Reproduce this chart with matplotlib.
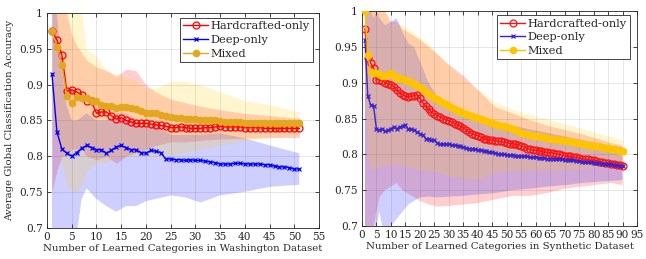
import numpy as np
import matplotlib
matplotlib.use("Agg")
import matplotlib.pyplot as plt

# ---- Washington dataset (left) ----
wash_x = list(range(1, 52))
wash_hand = [0.975, 0.963, 0.942, 0.891, 0.893, 0.890, 0.886, 0.877, 0.877, 0.860,
             0.862, 0.862, 0.857, 0.852, 0.854, 0.850, 0.848, 0.846, 0.846, 0.846,
             0.845, 0.844, 0.843, 0.842, 0.840, 0.840, 0.841, 0.840, 0.839, 0.839,
             0.839, 0.840, 0.840, 0.841, 0.842, 0.841, 0.841, 0.841, 0.841, 0.840,
             0.840, 0.840, 0.840, 0.839, 0.839, 0.839, 0.839, 0.839, 0.839, 0.839, 0.839]
wash_deep = [0.915, 0.834, 0.810, 0.804, 0.800, 0.805, 0.811, 0.815, 0.812, 0.809,
             0.809, 0.804, 0.808, 0.813, 0.815, 0.812, 0.809, 0.809, 0.805, 0.804,
             0.808, 0.807, 0.805, 0.796, 0.796, 0.795, 0.795, 0.794, 0.795, 0.794,
             0.794, 0.793, 0.792, 0.791, 0.789, 0.789, 0.789, 0.790, 0.790, 0.789,
             0.789, 0.789, 0.789, 0.788, 0.788, 0.786, 0.785, 0.785, 0.784, 0.782, 0.782]
wash_mixed = [0.975, 0.953, 0.928, 0.885, 0.874, 0.883, 0.881, 0.882, 0.878, 0.878,
              0.872, 0.871, 0.870, 0.867, 0.869, 0.869, 0.868, 0.866, 0.863, 0.860,
              0.860, 0.860, 0.858, 0.857, 0.855, 0.854, 0.853, 0.852, 0.852, 0.852,
              0.851, 0.851, 0.850, 0.850, 0.849, 0.848, 0.848, 0.848, 0.848, 0.847,
              0.847, 0.847, 0.847, 0.846, 0.846, 0.846, 0.846, 0.846, 0.846, 0.846, 0.846]

# shaded spread, read at a coarser set of positions
wash_bx = [1, 2, 3, 4, 5, 6, 7, 8, 10, 12, 14, 16, 18, 20, 22, 25, 28, 31, 35, 40, 45, 51]
wash_hand_hi = [1.08, 1.06, 1.04, 1.0, 0.97, 0.955, 0.945, 0.935, 0.925, 0.92, 0.912,
                0.922, 0.92, 0.90, 0.89, 0.88, 0.875, 0.87, 0.865, 0.86, 0.857, 0.853]
wash_hand_lo = [0.75, 0.78, 0.80, 0.80, 0.81, 0.81, 0.81, 0.80, 0.795, 0.80, 0.79,
                0.80, 0.805, 0.81, 0.815, 0.82, 0.82, 0.822, 0.824, 0.825, 0.826, 0.826]
wash_deep_hi = [1.2, 1.0, 0.92, 0.87, 0.85, 0.85, 0.855, 0.86, 0.85, 0.85, 0.86,
                0.86, 0.85, 0.84, 0.845, 0.83, 0.83, 0.83, 0.832, 0.825, 0.815, 0.804]
wash_deep_lo = [0.55, 0.6, 0.65, 0.66, 0.66, 0.69, 0.74, 0.755, 0.74, 0.73, 0.722,
                0.73, 0.73, 0.737, 0.74, 0.745, 0.742, 0.735, 0.745, 0.75, 0.757, 0.76]
wash_mixed_hi = [1.1, 1.1, 1.1, 1.08, 1.05, 1.02, 1.0, 0.95, 0.94, 0.92, 0.915,
                 0.91, 0.906, 0.895, 0.895, 0.905, 0.905, 0.90, 0.89, 0.878, 0.872, 0.862]
wash_mixed_lo = [0.85, 0.82, 0.79, 0.76, 0.75, 0.75, 0.76, 0.78, 0.79, 0.79, 0.80,
                 0.80, 0.80, 0.80, 0.80, 0.80, 0.805, 0.81, 0.815, 0.822, 0.826, 0.83]

# ---- Synthetic dataset (right) ----
syn_x = list(range(1, 91))
syn_hand = [0.975, 0.935, 0.927, 0.920, 0.904, 0.904, 0.903, 0.900, 0.898, 0.897,
            0.894, 0.890, 0.886, 0.883, 0.881, 0.880, 0.881, 0.882, 0.883, 0.878,
            0.872, 0.867, 0.863, 0.859, 0.856, 0.854, 0.852, 0.850, 0.848, 0.847,
            0.845, 0.843, 0.841, 0.839, 0.837, 0.834, 0.831, 0.829, 0.827, 0.826,
            0.824, 0.822, 0.821, 0.820, 0.820, 0.819, 0.818, 0.818, 0.817, 0.816,
            0.815, 0.815, 0.814, 0.813, 0.812, 0.810, 0.808, 0.807, 0.806, 0.806,
            0.805, 0.804, 0.803, 0.803, 0.802, 0.802, 0.801, 0.800, 0.799, 0.798,
            0.797, 0.797, 0.796, 0.796, 0.795, 0.794, 0.793, 0.793, 0.792, 0.792,
            0.791, 0.790, 0.789, 0.788, 0.788, 0.787, 0.786, 0.785, 0.785, 0.784]
syn_deep = [0.960, 0.881, 0.869, 0.867, 0.835, 0.834, 0.836, 0.832, 0.834, 0.836,
            0.838, 0.836, 0.838, 0.840, 0.841, 0.835, 0.835, 0.834, 0.831, 0.829,
            0.827, 0.822, 0.821, 0.820, 0.820, 0.816, 0.814, 0.814, 0.814, 0.814,
            0.813, 0.813, 0.812, 0.811, 0.810, 0.809, 0.808, 0.808, 0.807, 0.806,
            0.806, 0.805, 0.804, 0.803, 0.803, 0.802, 0.801, 0.800, 0.800, 0.799,
            0.799, 0.799, 0.798, 0.798, 0.797, 0.797, 0.797, 0.796, 0.796, 0.796,
            0.795, 0.795, 0.795, 0.794, 0.794, 0.794, 0.793, 0.793, 0.793, 0.792,
            0.792, 0.792, 0.792, 0.791, 0.791, 0.790, 0.790, 0.789, 0.789, 0.788,
            0.788, 0.788, 0.787, 0.787, 0.786, 0.786, 0.785, 0.785, 0.784, 0.784]
syn_mixed = [1.000, 0.939, 0.915, 0.913, 0.913, 0.912, 0.910, 0.909, 0.912, 0.913,
             0.910, 0.906, 0.906, 0.905, 0.904, 0.903, 0.901, 0.898, 0.896, 0.894,
             0.891, 0.887, 0.884, 0.881, 0.879, 0.877, 0.874, 0.872, 0.870, 0.867,
             0.865, 0.863, 0.861, 0.860, 0.858, 0.856, 0.855, 0.853, 0.852, 0.851,
             0.849, 0.848, 0.846, 0.845, 0.844, 0.842, 0.841, 0.840, 0.839, 0.838,
             0.837, 0.836, 0.834, 0.832, 0.830, 0.829, 0.828, 0.827, 0.826, 0.826,
             0.825, 0.824, 0.824, 0.823, 0.822, 0.821, 0.821, 0.820, 0.820, 0.819,
             0.818, 0.818, 0.817, 0.816, 0.816, 0.815, 0.814, 0.813, 0.813, 0.812,
             0.812, 0.811, 0.810, 0.809, 0.809, 0.808, 0.807, 0.806, 0.805, 0.804]

syn_bx = [1, 2, 3, 4, 5, 6, 8, 10, 12, 14, 16, 18, 20, 23, 26, 30, 35, 40, 46, 52,
          58, 64, 70, 76, 82, 86, 90]
syn_hand_hi = [1.1, 1.1, 1.08, 1.06, 1.05, 1.03, 1.0, 0.985, 0.985, 0.975, 0.97, 0.965,
               0.96, 0.95, 0.94, 0.925, 0.91, 0.89, 0.866, 0.857, 0.848, 0.84, 0.834,
               0.828, 0.821, 0.816, 0.812]
syn_hand_lo = [0.60, 0.65, 0.68, 0.70, 0.72, 0.74, 0.75, 0.755, 0.76, 0.75, 0.745, 0.74,
               0.735, 0.73, 0.727, 0.728, 0.73, 0.732, 0.737, 0.742, 0.742, 0.746, 0.752,
               0.755, 0.758, 0.76, 0.757]
syn_deep_hi = [1.1, 1.05, 1.0, 0.99, 1.0, 0.99, 0.98, 0.985, 0.99, 0.97, 0.955, 0.95,
               0.93, 0.90, 0.88, 0.87, 0.86, 0.85, 0.845, 0.84, 0.835, 0.83, 0.825,
               0.82, 0.815, 0.812, 0.81]
syn_deep_lo = [0.65, 0.68, 0.60, 0.65, 0.70, 0.72, 0.68, 0.70, 0.71, 0.72, 0.73, 0.735,
               0.74, 0.741, 0.74, 0.741, 0.742, 0.744, 0.746, 0.75, 0.752, 0.755, 0.757,
               0.76, 0.762, 0.763, 0.764]
syn_mixed_hi = [1.1, 1.1, 1.1, 1.1, 1.08, 1.05, 1.0, 0.98, 0.985, 0.98, 0.975, 0.97,
                0.962, 0.955, 0.94, 0.925, 0.905, 0.89, 0.873, 0.863, 0.856, 0.849,
                0.843, 0.836, 0.829, 0.825, 0.820]
syn_mixed_lo = [0.90, 0.80, 0.78, 0.78, 0.78, 0.785, 0.785, 0.787, 0.787, 0.785, 0.782,
                0.78, 0.778, 0.778, 0.775, 0.77, 0.767, 0.765, 0.775, 0.778, 0.778,
                0.778, 0.779, 0.78, 0.782, 0.783, 0.786]

labels = ["Hardcrafted-only", "Deep-only", "Mixed"]
TXT = "#262626"

plt.rcParams["font.family"] = "DejaVu Serif"
plt.rcParams["font.size"] = 7.5


def draw_panel(ax, x, means, bx, bands, colors, xmax, xlabel):
    fill_cols = ["#ff0000", "#0000ff", "#ffcc00"]
    for (hi, lo), fc in zip(bands, fill_cols):
        ax.fill_between(bx, lo, hi, color=fc, alpha=0.19, linewidth=0, zorder=1)

    hand, deep, mixed = means
    ax.plot(x, hand, "-o", color=colors[0], mfc="none", ms=5, mew=0.9, lw=1.0,
            label=labels[0], zorder=3)
    ax.plot(x, deep, "-x", color=colors[1], ms=3.5, mew=0.9, lw=1.0,
            label=labels[1], zorder=4)
    ax.plot(x, mixed, "-o", color=colors[2], mfc=colors[2], mec=colors[2], ms=4.5,
            lw=1.0, label=labels[2], zorder=5)

    ax.set_xlim(0, xmax)
    ax.set_ylim(0.7, 1.0)
    ax.set_xticks(np.arange(0, xmax + 1, 5))
    ax.set_yticks([0.7, 0.75, 0.8, 0.85, 0.9, 0.95, 1.0])
    ax.set_yticklabels(["0.7", "0.75", "0.8", "0.85", "0.9", "0.95", "1"])
    ax.grid(True, color="#262626", alpha=0.12, linewidth=0.6)
    ax.tick_params(direction="in", top=True, right=True, length=3, width=0.6,
                   colors=TXT, labelsize=7.6, pad=3)
    for s in ax.spines.values():
        s.set_color("#262626")
        s.set_linewidth(0.6)
    ax.set_xlabel(xlabel, color=TXT, fontsize=7.3, labelpad=1.5)


fig = plt.figure(figsize=(6.46, 2.59), dpi=100)
ax1 = fig.add_axes([0.0728, 0.1216, 0.4211, 0.8263])
ax2 = fig.add_axes([0.5604, 0.1274, 0.4257, 0.8301])

draw_panel(ax1, wash_x, (wash_hand, wash_deep, wash_mixed), wash_bx,
           [(wash_hand_hi, wash_hand_lo), (wash_deep_hi, wash_deep_lo),
            (wash_mixed_hi, wash_mixed_lo)],
           ["#ff0000", "#0000ff", "#e2a71c"], 55,
           "Number of Learned Categories in Washington Dataset")
ax1.set_ylabel("Average Global Classification Accuracy", color=TXT, fontsize=7.3,
               labelpad=4)

draw_panel(ax2, syn_x, (syn_hand, syn_deep, syn_mixed), syn_bx,
           [(syn_hand_hi, syn_hand_lo), (syn_deep_hi, syn_deep_lo),
            (syn_mixed_hi, syn_mixed_lo)],
           ["#ff1010", "#3a22d0", "#ffc400"], 95,
           "Number of Learned Categories in Synthetic Dataset")

for ax, anchor in ((ax1, (0.978, 0.979)), (ax2, (0.975, 0.981))):
    leg = ax.legend(loc="upper right", bbox_to_anchor=anchor, borderaxespad=0,
                    fontsize=8.2, handlelength=2.2, handletextpad=0.2,
                    labelspacing=0.32, borderpad=0.3, fancybox=False,
                    framealpha=1, edgecolor="#262626")
    leg.get_frame().set_linewidth(0.6)
    for t in leg.get_texts():
        t.set_color(TXT)

fig.savefig("out.png", dpi=100)
